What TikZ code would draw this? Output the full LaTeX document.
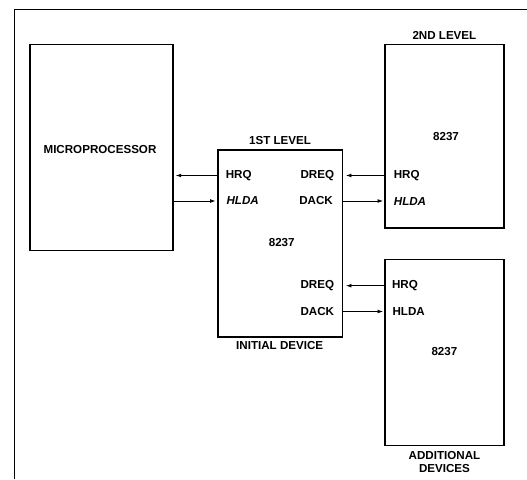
\documentclass[tikz,border=0pt]{standalone}
\usepackage{fontspec}
\setmainfont{Liberation Sans}
\usetikzlibrary{arrows.meta}
\begin{document}
\begin{tikzpicture}[x=1pt,y=-1pt,
  box/.style={draw, line width=1.8pt, inner sep=0pt},
  lbl/.style={font=\bfseries\fontsize{11.6}{13}\selectfont, inner sep=0pt, align=center},
  ilbl/.style={lbl, font=\bfseries\itshape\fontsize{11.6}{13}\selectfont},
  sig/.style={line width=0.8pt, -{Latex[length=5.5pt,width=3.8pt]}}]
\useasboundingbox (0,0) rectangle (527,479);
% frame
\draw[line width=0.8pt] (14,479) -- (14,9) -- (527,9);
% boxes
\node[box, minimum width=143.2pt, minimum height=206pt] (micro) at (101.2,147.4) {};
\node[box, minimum width=124.5pt, minimum height=187pt] (first) at (280.25,243.5) {};
\node[box, minimum width=119pt, minimum height=183.6pt] (second) at (444.5,136.2) {};
\node[box, minimum width=119pt, minimum height=186pt] (addl) at (444.5,352.45) {};
% texts
\node[lbl] (tmicro) at (100,150) {MICROPROCESSOR};
\node[lbl] (t1lev) at (280,140.5) {1ST LEVEL};
\node[lbl] (hrq1) at (238.7,175.5) {HRQ};
\node[ilbl] (hlda1) at (242.7,201) {HLDA};
\node[lbl] (dreq1) at (317.3,175.5) {DREQ};
\node[lbl] (dack1) at (316,201) {DACK};
\node[lbl] (c1) at (281.7,242.7) {8237};
\node[lbl] (dreq2) at (317.3,285.7) {DREQ};
\node[lbl] (dack2) at (317.3,311.5) {DACK};
\node[lbl] (tinit) at (279.7,346) {INITIAL DEVICE};
\node[lbl] (t2lev) at (444.4,35.3) {2ND LEVEL};
\node[lbl] (c2) at (446,137) {8237};
\node[lbl] (hrq2) at (406.7,175.5) {HRQ};
\node[ilbl] (hlda2) at (410,202) {HLDA};
\node[lbl] (hrq3) at (405,285.7) {HRQ};
\node[lbl] (hlda3) at (408.7,311.5) {HLDA};
\node[lbl] (c3) at (444.4,351.6) {8237};
\node[lbl] (tadd) at (444.5,462) {ADDITIONAL\\DEVICES};
% connectors
\draw[sig, shorten >=2pt] (first.west |- hrq1) -- (micro.east |- hrq1);
\draw[sig, shorten >=1.5pt] (micro.east |- hlda1) -- (first.west |- hlda1);
\draw[sig, shorten >=2.5pt] (second.west |- dreq1) -- (first.east |- dreq1);
\draw[sig, shorten >=1pt] (first.east |- dack1) -- (second.west |- dack1);
\draw[sig, shorten >=2.5pt] (addl.west |- dreq2) -- (first.east |- dreq2);
\draw[sig, shorten >=1pt] (first.east |- dack2) -- (addl.west |- dack2);
\end{tikzpicture}
\end{document}
